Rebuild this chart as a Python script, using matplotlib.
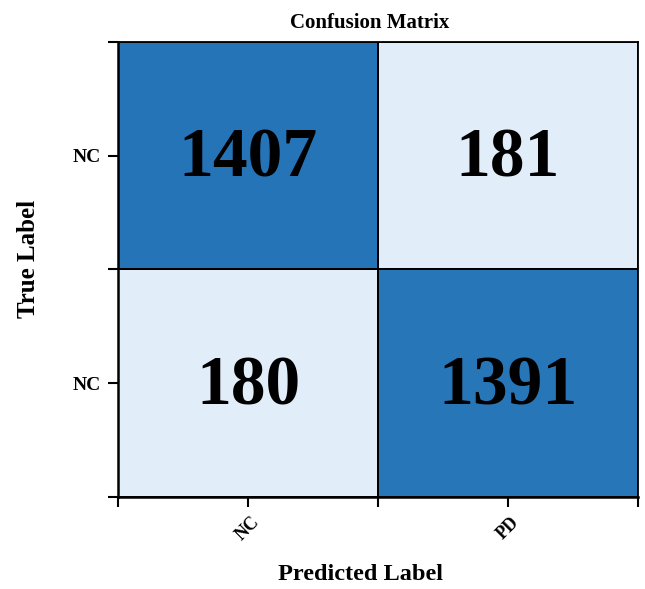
import numpy as np
import matplotlib.pyplot as plt

plt.rcParams['font.family'] = ['Liberation Serif', 'DejaVu Serif']
plt.rcParams['font.weight'] = 'bold'

# Konfusionsmatrix (Zeilen: wahre Klasse, Spalten: vorhergesagte Klasse)
cm = np.array([[1407, 181],
               [180, 1391]])
x_labels = ['NC', 'PD']
y_labels = ['NC', 'NC']

fig = plt.figure(figsize=(6.45, 5.89), dpi=100)
ax = fig.add_axes([0.183, 0.156, 0.806, 0.773])

ax.pcolormesh(cm, cmap='Blues', vmin=-40, vmax=1930,
              edgecolors='black', linewidth=1.3)
ax.set_xlim(0, 2)
ax.set_ylim(2, 0)

for i in range(cm.shape[0]):
    for j in range(cm.shape[1]):
        ax.text(j + 0.5, i + 0.485, str(cm[i, j]), ha='center',
                va='center_baseline', fontsize=50, fontweight='bold',
                color='black')

# Striche an den Zellgrenzen, Beschriftung in der Zellmitte
ax.set_xticks([0, 1, 2])
ax.set_yticks([0, 1, 2])
ax.set_xticks([0.5, 1.5], minor=True)
ax.set_yticks([0.5, 1.5], minor=True)
ax.set_xticklabels([])
ax.set_yticklabels([])
ax.set_xticklabels(x_labels, minor=True, rotation=45, ha='center',
                   fontsize=13, fontweight='bold')
ax.set_yticklabels(y_labels, minor=True, fontsize=14, fontweight='bold')
ax.tick_params(which='both', length=7, width=1.5, color='black')
ax.tick_params(axis='y', which='minor', pad=5)
ax.tick_params(axis='x', which='minor', pad=5)

for side in ['left', 'bottom']:
    ax.spines[side].set_linewidth(1.8)
for side in ['top', 'right']:
    ax.spines[side].set_linewidth(1.3)

ax.set_title('Confusion Matrix', fontsize=15, fontweight='bold', pad=10,
             x=0.485)
ax.set_xlabel('Predicted Label', fontsize=17.5, fontweight='bold')
ax.set_ylabel('True Label', fontsize=18, fontweight='bold')
ax.xaxis.set_label_coords(0.467, -0.147)
ax.yaxis.set_label_coords(-0.15, 0.523)

fig.savefig('out.png', dpi=100)
